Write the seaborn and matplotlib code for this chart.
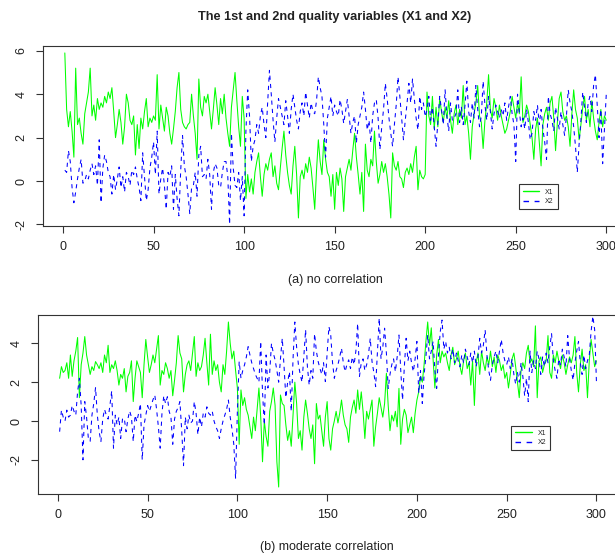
import numpy as np
import pandas as pd
import matplotlib
matplotlib.use("Agg")
import matplotlib.pyplot as plt
import seaborn as sns

# (a) no correlation
a_x1 = [5.9, 3.3, 2.5, 3.2, 2.3, 1.1, 5.2, 2.6, 2.9, 2.2,
        1.7, 3.1, 3.6, 4.1, 5.2, 3.0, 3.5, 2.8, 3.8, 3.3,
        3.6, 3.4, 3.9, 3.6, 4.1, 3.8, 4.3, 3.2, 2.0, 2.6,
        3.3, 2.7, 1.7, 2.5, 4.0, 3.6, 2.8, 2.6, 3.0, 1.2,
        2.6, 1.5, 2.9, 2.4, 3.2, 3.8, 2.5, 2.9, 2.7, 3.0,
        2.8, 4.9, 2.4, 3.5, 2.9, 2.3, 3.4, 3.0, 2.2, 1.7,
        2.4, 3.2, 4.3, 5.0, 3.3, 2.7, 2.5, 2.4, 2.6, 2.7,
        4.0, 3.0, 2.2, 1.0, 4.7, 3.4, 3.0, 3.9, 3.6, 4.0,
        3.2, 2.4, 3.3, 4.3, 3.5, 2.6, 3.8, 3.1, 4.0, 2.9,
        2.2, 1.6, 3.4, 4.2, 5.0, 3.7, 2.5, 1.6, 3.9, 2.9,
        -0.8, 0.3, -0.5, 0.1, -0.6, 0.4, 0.9, 1.3, 0.2, -0.7,
        0.3, 0.8, 0.5, 1.0, 1.3, 0.2, 0.7, -0.1, -0.4, 0.6,
        1.5, 2.3, 1.2, 0.4, -0.2, -0.6, 0.7, 1.6, 0.3, -1.7,
        0.2, 0.5, 0.1, 0.8, 0.4, 1.1, 0.6, -0.3, -1.3, 0.5,
        1.9, 0.9, 0.3, 1.9, 1.0, 0.4, 0.2, -0.7, 0.3, -1.3,
        0.4, -0.2, 0.6, 0.1, -1.4, 0.2, 0.6, 1.0, 0.5, 1.4,
        2.2, 1.1, 0.3, -0.6, 0.4, -1.4, 1.7, 0.5, 0.2, 1.0,
        0.7, 2.3, 0.9, -0.1, 0.3, 0.9, 0.4, 0.8, 0.2, -0.6,
        -1.7, 1.3, 0.7, 0.5, 0.9, 0.2, 0.1, -0.3, 0.4, 0.6,
        0.3, 0.8, 0.4, 1.1, 1.6, -0.4, 0.5, 0.2, 0.1, 0.3,
        4.1, 3.0, 2.6, 3.9, 2.4, 3.4, 2.5, 3.8, 3.2, 2.7,
        3.4, 2.9, 3.7, 2.8, 2.2, 3.1, 3.5, 2.6, 3.3, 2.9,
        4.4, 2.6, 3.0, 2.2, 1.0, 2.5, 3.1, 3.6, 4.4, 3.0,
        2.7, 1.5, 2.8, 3.6, 4.9, 3.3, 2.9, 3.8, 3.4, 2.8,
        3.5, 3.0, 2.6, 2.2, 2.4, 2.8, 3.2, 3.9, 3.4, 2.9,
        3.6, 3.1, 4.8, 2.7, 3.0, 3.5, 3.2, 2.6, 2.0, 1.0,
        2.4, 2.9, 1.8, 0.7, 2.6, 3.1, 3.4, 2.8, 3.6, 3.9,
        2.9, 1.4, 2.7, 3.8, 4.1, 3.2, 2.8, 3.0, 2.5, 1.6,
        3.1, 4.2, 3.3, 2.9, 1.9, 2.6, 3.4, 3.9, 2.8, 3.3,
        2.5, 3.7, 2.9, 2.3, 1.9, 2.7, 3.3, 2.5, 3.0, 2.8]

a_x2 = [0.5, 0.4, 1.4, 0.9, -0.3, -1.0, -0.5, 0.1, 0.6, 1.0,
        -0.1, 0.0, 0.3, 0.1, 0.5, 0.8, 0.3, 0.7, -0.2, 1.9,
        -1.0, 0.6, 1.2, 0.9, 0.4, 0.2, -0.6, 0.3, -0.4, 0.1,
        0.65, -0.3, 0.2, -0.5, 0.4, 0.2, -0.2, 0.5, 0.3, 0.65,
        0.1, -0.3, -0.9, 1.3, 0.2, -0.9, -0.4, 0.6, 1.1, 1.8,
        0.3, 2.3, -0.6, 0.1, 0.6, -0.2, -1.3, 0.4, 0.2, 0.7,
        -1.3, 0.3, -0.8, -1.6, 0.5, 2.1, 0.7, 0.2, -0.6, -1.5,
        -0.3, -0.2, 0.4, -0.7, 1.2, 1.6, 0.2, 0.3, 0.1, 1.0,
        0.3, -1.3, 0.4, 0.8, 0.6, -0.2, -0.3, 0.4, 0.9, 0.9,
        0.2, -2.0, 2.2, 0.6, -0.2, -0.3, 0.4, -0.9, 0.2, -1.6,
        2.3, 4.2, 3.0, 0.9, 1.6, 1.9, 2.6, 2.2, 3.0, 3.4,
        2.6, 2.0, 3.6, 5.1, 4.0, 2.8, 1.8, 2.9, 3.8, 3.4,
        3.0, 2.6, 3.7, 3.0, 2.2, 3.3, 4.0, 3.4, 2.8, 2.4,
        3.2, 3.6, 3.0, 4.1, 3.5, 2.9, 3.6, 3.2, 3.1, 3.7,
        4.8, 4.3, 3.9, 2.6, 1.1, 2.9, 3.4, 3.9, 3.0, 3.5,
        3.2, 3.0, 3.75, 3.3, 2.65, 3.2, 3.75, 3.0, 2.2, 2.7,
        3.0, 1.75, 2.6, 3.0, 3.4, 4.1, 3.3, 2.35, 2.8, 1.75,
        3.0, 3.6, 3.75, 2.9, 1.45, 2.5, 3.3, 4.5, 3.8, 2.9,
        2.2, 1.6, 2.6, 3.5, 4.8, 3.9, 2.9, 1.9, 2.8, 3.6,
        4.5, 3.6, 4.7, 3.8, 2.9, 2.35, 3.9, 3.3, 3.6, 2.96,
        3.3, 3.9, 2.8, 3.4, 2.5, 1.6, 2.7, 3.9, 3.3, 2.6,
        4.2, 3.0, 2.3, 3.6, 2.8, 2.9, 3.1, 4.2, 2.7, 3.4,
        2.6, 3.5, 4.6, 3.2, 2.7, 3.6, 2.9, 4.4, 3.3, 2.5,
        3.0, 4.6, 3.5, 2.8, 3.9, 3.2, 2.4, 3.1, 3.5, 3.2,
        2.9, 3.3, 3.0, 3.6, 2.8, 3.4, 3.9, 3.1, 2.6, 0.9,
        4.0, 3.2, 2.5, 2.9, 2.4, 3.3, 2.7, 1.9, 2.2, 3.2,
        2.8, 3.5, 2.6, 3.3, 2.4, 1.8, 1.0, 3.9, 3.1, 2.8,
        2.3, 3.4, 2.9, 2.4, 3.2, 2.6, 2.1, 3.0, 4.2, 3.6,
        3.2, 2.5, 1.6, 0.4, 1.7, 2.8, 4.1, 3.4, 2.7, 3.6,
        3.9, 3.2, 4.4, 4.9, 3.5, 2.0, 3.3, 0.8, 2.4, 4.0]

# (b) moderate correlation
b_x1 = [2.2, 2.8, 2.5, 2.6, 3.0, 2.2, 3.4, 2.3, 3.1, 3.6,
        4.3, 1.2, 2.9, 3.5, 4.35, 3.4, 2.9, 2.4, 2.8, 2.6,
        3.06, 2.9, 2.7, 3.0, 2.5, 3.4, 3.0, 3.9, 2.5, 2.9,
        2.7, 3.1, 2.6, 1.85, 2.4, 2.2, 2.7, 1.5, 2.3, 2.5,
        3.1, 1.0, 2.2, 3.1, 2.8, 2.5, 1.2, 2.9, 4.2, 3.3,
        2.5, 2.9, 3.4, 3.0, 3.7, 4.4, 1.85, 2.6, 2.4, 3.0,
        2.7, 2.2, 2.6, 1.3, 2.1, 3.0, 4.4, 3.5, 3.2, 1.5,
        2.4, 2.9, 3.1, 2.6, 3.5, 4.35, 2.3, 3.0, 2.6, 2.8,
        3.4, 4.26, 3.0, 1.85, 4.47, 2.4, 3.1, 2.6, 2.9, 2.0,
        1.5, 2.9, 2.4, 3.6, 5.1, 4.0, 3.2, 3.6, 2.6, 1.7,
        -1.2, 1.6, 0.8, 1.2, 0.6, 0.3, -0.3, -0.9, 0.2, -0.5,
        0.6, 1.7, 0.2, -2.1, 0.0, -0.8, -1.3, 0.5, 1.0, 1.7,
        0.8, -2.1, -3.4, 1.34, 0.9, 0.8, -0.2, -1.0, -0.5, -1.3,
        0.3, 2.0, 0.9, -0.9, -0.5, -1.5, 0.2, 1.08, 0.4, -0.4,
        -0.9, -0.2, -2.2, 0.9, 0.1, 0.3, -0.5, -1.3, 0.2, 1.0,
        -0.9, -1.5, -0.4, 0.0, 0.5, -0.1, 0.4, 1.08, 0.3, -0.2,
        -0.4, -1.1, 0.2, 0.7, 1.08, 0.4, 1.6, 0.6, 1.5, 0.5,
        -0.9, 0.5, 0.1, 0.6, 1.08, -1.3, -0.3, 0.4, 1.2, 0.7,
        0.2, 0.9, 2.46, 0.8, -0.5, 0.3, 0.0, 0.5, -0.3, 1.68,
        -1.2, 0.1, 0.6, 0.3, -0.6, -0.2, 0.2, -0.6, 0.4, 1.08,
        1.5, 2.3, 2.0, 2.9, 4.1, 5.1, 3.9, 4.8, 3.2, 1.7,
        3.4, 4.2, 3.0, 3.6, 3.3, 3.5, 3.0, 2.6, 3.4, 3.8,
        2.9, 3.2, 3.6, 2.8, 2.4, 3.1, 3.5, 2.7, 3.0, 1.85,
        3.1, 0.8, 3.0, 3.5, 2.4, 3.6, 3.0, 2.6, 3.3, 2.9,
        3.6, 2.8, 3.3, 2.5, 3.4, 3.1, 2.6, 2.9, 2.2, 2.5,
        1.7, 2.4, 3.2, 3.5, 2.8, 2.0, 1.2, 2.6, 3.0, 2.7,
        3.5, 3.9, 3.0, 3.2, 2.8, 4.9, 1.2, 3.1, 3.3, 2.5,
        2.9, 3.1, 4.4, 2.5, 2.2, 3.4, 3.0, 3.6, 3.1, 2.7,
        3.4, 3.0, 2.4, 2.9, 3.3, 3.0, 3.4, 4.35, 2.5, 1.5,
        2.9, 3.7, 2.6, 2.9, 1.2, 3.1, 4.2, 3.5, 2.8, 3.1]

b_x2 = [-0.55, 0.56, 0.2, 0.0, 0.56, 0.2, 0.3, 0.8, 0.5, 0.3,
        1.5, 2.2, 0.8, -2.0, 1.0, 0.2, -0.9, -1.05, 0.3, 0.9,
        1.72, 0.3, -0.55, -1.06, 0.1, 0.6, 0.3, 0.1, 0.8, 1.55,
        -1.4, 0.3, -0.2, 0.2, -0.9, 0.1, 0.15, -0.55, 0.1, 0.52,
        0.2, -1.06, 0.3, -0.03, 0.4, 0.9, -2.0, -0.2, 0.3, 0.8,
        0.5, 0.8, 1.1, 1.34, 0.6, -0.3, -1.4, 0.4, 1.3, 0.9,
        1.25, 0.5, 0.2, -1.2, 0.1, 0.5, 0.7, 1.0, -0.5, -2.3,
        0.2, -0.4, 0.3, -0.1, 0.0, 1.0, 0.4, -0.7, 0.2, -0.3,
        0.4, 0.2, 0.73, 0.4, 0.3, 0.5, 0.0, -0.3, -0.5, -0.9,
        -0.4, 0.0, 0.3, 0.6, 1.08, 0.2, -0.4, -1.2, -2.95, 0.5,
        3.06, 2.2, 2.6, 2.9, 3.3, 3.83, 3.4, 3.0, 2.7, 2.4,
        2.2, 2.0, 4.1, 1.5, -0.2, 3.4, 1.7, 2.5, 4.0, 3.5,
        3.15, 2.6, 2.0, 3.2, 4.26, 2.8, 1.2, 2.0, 2.54, 0.5,
        3.2, 5.1, 3.8, 2.9, 2.4, 2.0, 3.3, 4.7, 2.8, 1.85,
        2.6, 2.2, 4.5, 3.6, 3.06, 2.7, 2.4, 3.0, 2.03, 3.5,
        4.86, 4.43, 3.0, 2.2, 2.6, 2.9, 3.3, 3.75, 3.0, 2.54,
        2.9, 3.15, 2.7, 3.3, 2.9, 3.6, 5.03, 2.3, 3.0, 3.2,
        2.6, 2.9, 3.4, 4.26, 3.06, 2.5, 1.77, 3.5, 5.3, 3.2,
        3.8, 4.78, 3.5, 1.68, 2.4, 2.9, 3.2, 2.54, 3.3, 4.43,
        2.6, 1.08, 2.8, 4.26, 3.1, 3.6, 3.0, 2.54, 3.2, 4.1,
        1.43, 2.6, 0.9, 2.4, 3.3, 4.43, 3.2, 3.6, 4.1, 2.6,
        1.68, 3.4, 4.6, 5.2, 3.7, 4.1, 3.5, 3.8, 3.2, 3.7,
        3.0, 3.5, 3.1, 2.8, 3.4, 3.0, 3.7, 3.3, 2.9, 3.5,
        3.0, 3.6, 2.8, 3.3, 4.26, 3.5, 3.9, 4.69, 3.4, 2.6,
        2.1, 2.9, 3.3, 3.6, 3.0, 3.6, 4.2, 3.5, 3.1, 2.9,
        3.3, 2.7, 3.2, 2.4, 1.9, 2.5, 2.0, 3.0, 2.3, 1.3,
        2.2, 1.0, 3.6, 2.5, 3.1, 2.7, 3.6, 3.2, 2.4, 3.3,
        2.8, 3.5, 3.0, 3.8, 4.5, 3.1, 2.6, 2.2, 3.2, 2.9,
        3.7, 3.3, 2.8, 4.4, 3.2, 2.6, 2.1, 3.0, 3.6, 4.1,
        3.0, 2.4, 3.4, 2.7, 3.1, 3.4, 4.6, 5.4, 4.7, 2.0]

obs = np.arange(1, 301)
x_ticks = [0, 50, 100, 150, 200, 250, 300]

sns.set_style("ticks")
plt.rcParams['font.family'] = ['Liberation Sans', 'DejaVu Sans']
plt.rcParams['axes.unicode_minus'] = False

fig = plt.figure(figsize=(6.15, 5.56), dpi=100)

panels = [
    # x1, x2, caption, axes rect, ylim, yticks, legend anchor, caption x, caption y
    (a_x1, a_x2, '(a) no correlation', [43 / 615, 1 - 226 / 556, 585 / 615, 180 / 556],
     (-2.07, 6.22), [-2, 0, 2, 4, 6], (0.807, 0.25), 335 / 615, 1 - 280 / 556),
    (b_x1, b_x2, '(b) moderate correlation', [38 / 615, 1 - 494 / 556, 580 / 615, 179 / 556],
     (-3.76, 5.46), [-2, 0, 2, 4], (0.81, 0.402), 327 / 615, 1 - 547 / 556),
]

for x1, x2, caption, rect, ylim, yticks, anchor, cap_x, cap_y in panels:
    ax = fig.add_axes(rect)
    df = pd.DataFrame({'t': np.concatenate([obs, obs]),
                       'value': np.concatenate([x1, x2]),
                       'var': ['X1'] * len(x1) + ['X2'] * len(x2)})
    sns.lineplot(data=df, x='t', y='value', hue='var', style='var',
                 palette={'X1': '#00FF00', 'X2': '#0000FF'},
                 dashes={'X1': '', 'X2': (4, 4)},
                 linewidth=0.75, errorbar=None, legend=False, ax=ax)
    ax.set_xlim(-11.05, 312)
    ax.set_ylim(*ylim)
    ax.set_xticks(x_ticks)
    ax.set_yticks(yticks)
    ax.set_xlabel('')
    ax.set_ylabel('')
    for sp in ax.spines.values():
        sp.set_color('#333333')
        sp.set_linewidth(0.8)
    ax.tick_params(direction='out', length=5, width=0.8, color='#333333',
                   labelsize=9, labelcolor='#222222', pad=6)
    ax.tick_params(axis='y', labelrotation=90)
    for lbl in ax.get_yticklabels():
        lbl.set_va('center')
    leg = ax.legend(handles=ax.lines[:2], labels=['X1', 'X2'],
                    loc='upper left', bbox_to_anchor=anchor,
                    fontsize=5, frameon=True, fancybox=False, framealpha=1,
                    edgecolor='#333333', borderpad=0.6, handlelength=2.4,
                    handletextpad=0.8, labelspacing=0.35)
    leg.get_frame().set_linewidth(0.8)
    for hl in leg.get_lines():
        hl.set_linewidth(1.0)
    fig.text(cap_x, cap_y, caption, ha='center', va='center', fontsize=9, color='#222222')

fig.text(335 / 615, 1 - 17 / 556, 'The 1st and 2nd quality variables (X1 and X2)',
         ha='center', va='center', fontsize=9.2, fontweight='bold', color='#222222')

fig.savefig('out.png', dpi=100)
